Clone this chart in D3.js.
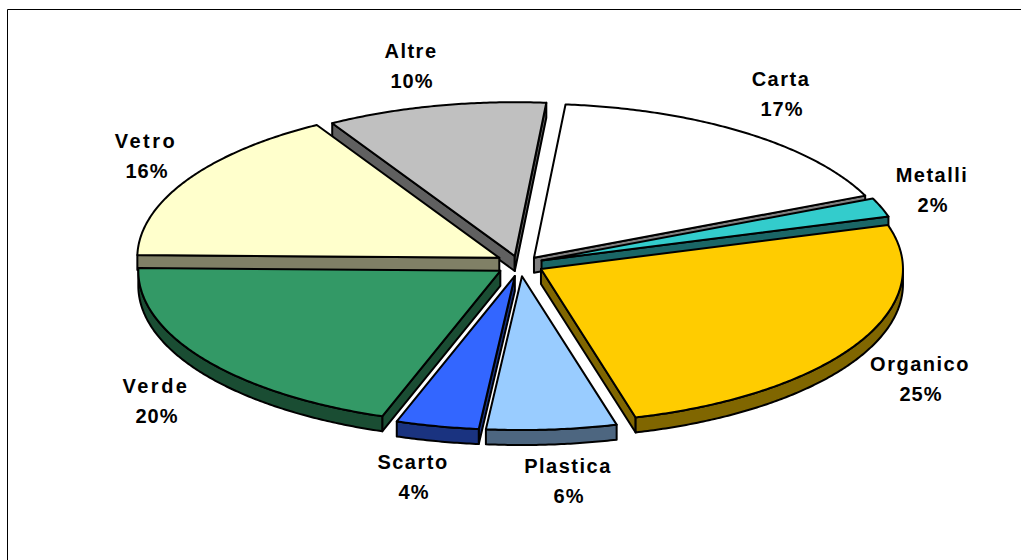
<!DOCTYPE html>
<html>
<head>
<meta charset="utf-8">
<script src="https://d3js.org/d3.v7.min.js"></script>
<style>
html, body { margin: 0; background: #fff; }
svg { display: block; }
.label { font-family: "Liberation Sans", Arial, sans-serif; font-weight: bold; font-size: 20px; fill: #000; text-anchor: middle; }
.pct { letter-spacing: 1px; }
</style>
</head>
<body>
<svg id="chart" width="1022" height="560"></svg>
<script>
// rifiuti, composizione percentuale (labels are the rounded values)
var categories = ["Carta", "Metalli", "Organico", "Plastica", "Scarto", "Verde", "Vetro", "Altre"];
var values = [17, 2, 25.4, 5.8, 3.7, 20, 16.3, 9.8];
var topColors = ["#ffffff", "#33cccc", "#ffcc00", "#99ccff", "#3366ff", "#339966", "#ffffcc", "#c0c0c0"];
var wallColors = ["#808080", "#1a6666", "#806600", "#4d6680", "#1a3380", "#1a4d33", "#808066", "#606060"];

// layout
const cx = 520, cy = 266;
const radius = 362, tilt = 0.425, depth = 15, explode = 24;
const startDeg = 5;
const lineWidth = 2;
const labelPos = {
    "Carta": [781, 86], "Metalli": [932, 182], "Organico": [920, 371], "Plastica": [568, 473],
    "Scarto": [413, 469], "Verde": [156, 393], "Vetro": [146, 148], "Altre": [411, 58]
};
const nameSpacing = { "Verde": 2.5, "Vetro": 2.5 };
const sliceNudge = { "Metalli": [-1, -2], "Organico": [0, -2], "Vetro": [0, -3], "Verde": [0, -1] };
const drawOrder = ["Altre", "Carta", "Vetro", "Metalli", "Verde", "Organico", "Scarto", "Plastica"];

var svg = d3.select("#chart");

// frame, open on the right and at the bottom
svg.append("path")
    .attr("d", "M7.5,560V9.5H1021")
    .attr("fill", "none")
    .attr("stroke", "#000")
    .attr("stroke-width", 1);

const rad = Math.PI / 180;
var pie = d3.pie()
    .sort(null)
    .startAngle(startDeg * rad)
    .endAngle((startDeg + 360) * rad);

var slices = pie(values).map((d, i) => ({
    name: categories[i],
    value: values[i],
    top: topColors[i],
    wall: wallColors[i],
    a0: d.startAngle,
    a1: d.endAngle,
    mid: (d.startAngle + d.endAngle) / 2,
    nudge: sliceNudge[categories[i]] || [0, 0]
}));

function project(s, angle, r, drop)
{
    return [
        cx + s.nudge[0] + explode * Math.sin(s.mid) + r * Math.sin(angle),
        cy + s.nudge[1] - tilt * explode * Math.cos(s.mid) - tilt * r * Math.cos(angle) + drop
    ];
}

var line = d3.line();

function arcPoints(s, a0, a1, drop)
{
    let n = Math.max(2, Math.ceil((a1 - a0) / (0.5 * rad)));
    return d3.range(n + 1).map(i => project(s, a0 + (a1 - a0) * i / n, radius, drop));
}

function radialWall(s, angle)
{
    return line([
        project(s, angle, 0, 0),
        project(s, angle, radius, 0),
        project(s, angle, radius, depth),
        project(s, angle, 0, depth)
    ]) + "Z";
}

// outer rim, only the part that faces the viewer
function rimWall(s)
{
    let a0 = Math.max(s.a0, Math.PI / 2), a1 = Math.min(s.a1, 3 * Math.PI / 2);
    if (a1 <= a0) return null;
    return line(arcPoints(s, a0, a1, 0).concat(arcPoints(s, a0, a1, depth).reverse())) + "Z";
}

function topFace(s)
{
    return line([project(s, 0, 0, 0)].concat(arcPoints(s, s.a0, s.a1, 0))) + "Z";
}

var holder = svg.append("g").attr("class", "pie");

drawOrder.forEach(name => {
    let s = slices.find(d => d.name == name);
    let g = holder.append("g").attr("class", "slice");
    let walls = [];
    if (Math.sin(s.a0) < 0) walls.push(radialWall(s, s.a0));
    if (Math.sin(s.a1) > 0) walls.push(radialWall(s, s.a1));
    let rim = rimWall(s);
    if (rim) walls.push(rim);
    walls.forEach(w => {
        g.append("path")
            .attr("d", w)
            .attr("fill", s.wall)
            .attr("stroke", "#000")
            .attr("stroke-width", lineWidth)
            .attr("stroke-linejoin", "round");
    });
    g.append("path")
        .attr("d", topFace(s))
        .attr("fill", s.top)
        .attr("stroke", "#000")
        .attr("stroke-width", lineWidth)
        .attr("stroke-linejoin", "round");
});

// labels
slices.forEach(s => {
    let p = labelPos[s.name];
    svg.append("text")
        .attr("class", "label")
        .attr("x", p[0])
        .attr("y", p[1])
        .style("letter-spacing", (nameSpacing[s.name] || 1.5) + "px")
        .text(s.name);
    svg.append("text")
        .attr("class", "label pct")
        .attr("x", p[0] + 1)
        .attr("y", p[1] + 30)
        .text(Math.round(s.value) + "%");
});
</script>
</body>
</html>
